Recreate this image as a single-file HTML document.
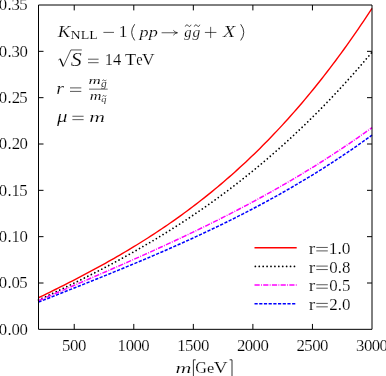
<!DOCTYPE html><html><head><meta charset="utf-8"><style>html,body{margin:0;padding:0;background:#fff}svg{display:block;will-change:transform}text{font-family:"Liberation Serif",serif;fill:#000;stroke:#fff;stroke-width:0.34px}</style></head><body>
<svg width="386" height="376" viewBox="0 0 386 376">
<rect width="386" height="376" fill="#fff"/>
<path d="M38.50,297.75 L41.30,296.39 L44.11,295.02 L46.91,293.65 L49.71,292.27 L52.51,290.89 L55.32,289.50 L58.12,288.10 L60.92,286.70 L63.72,285.29 L66.53,283.87 L69.33,282.44 L72.13,281.01 L74.93,279.57 L77.74,278.12 L80.54,276.66 L83.34,275.19 L86.14,273.71 L88.95,272.22 L91.75,270.72 L94.55,269.21 L97.35,267.68 L100.16,266.15 L102.96,264.60 L105.76,263.05 L108.56,261.48 L111.37,259.89 L114.17,258.30 L116.97,256.69 L119.77,255.06 L122.58,253.42 L125.38,251.77 L128.18,250.10 L130.98,248.42 L133.79,246.72 L136.59,245.00 L139.39,243.27 L142.19,241.52 L145.00,239.75 L147.80,237.97 L150.60,236.17 L153.40,234.35 L156.21,232.51 L159.01,230.66 L161.81,228.78 L164.61,226.89 L167.42,224.97 L170.22,223.03 L173.02,221.08 L175.82,219.10 L178.63,217.10 L181.43,215.09 L184.23,213.04 L187.03,210.98 L189.84,208.89 L192.64,206.78 L195.44,204.65 L198.24,202.50 L201.05,200.32 L203.85,198.11 L206.65,195.88 L209.45,193.63 L212.26,191.35 L215.06,189.04 L217.86,186.71 L220.66,184.35 L223.47,181.97 L226.27,179.56 L229.07,177.12 L231.87,174.65 L234.68,172.16 L237.48,169.64 L240.28,167.08 L243.08,164.50 L245.89,161.89 L248.69,159.25 L251.49,156.58 L254.29,153.88 L257.10,151.15 L259.90,148.38 L262.70,145.59 L265.50,142.76 L268.31,139.90 L271.11,137.01 L273.91,134.09 L276.71,131.13 L279.52,128.14 L282.32,125.11 L285.12,122.05 L287.92,118.96 L290.73,115.83 L293.53,112.66 L296.33,109.46 L299.13,106.23 L301.94,102.95 L304.74,99.64 L307.54,96.30 L310.34,92.91 L313.15,89.49 L315.95,86.03 L318.75,82.53 L321.55,78.99 L324.36,75.42 L327.16,71.80 L329.96,68.14 L332.76,64.45 L335.57,60.71 L338.37,56.93 L341.17,53.12 L343.97,49.26 L346.78,45.35 L349.58,41.41 L352.38,37.42 L355.18,33.39 L357.99,29.32 L360.79,25.20 L363.59,21.04 L366.39,16.84 L369.20,12.59 L372.00,8.29" fill="none" stroke="#ff0000" stroke-width="1.4" stroke-linecap="butt"/>
<path d="M38.50,299.96 L41.30,298.67 L44.11,297.37 L46.91,296.07 L49.71,294.76 L52.51,293.45 L55.32,292.13 L58.12,290.80 L60.92,289.47 L63.72,288.13 L66.53,286.78 L69.33,285.43 L72.13,284.07 L74.93,282.70 L77.74,281.32 L80.54,279.94 L83.34,278.54 L86.14,277.14 L88.95,275.73 L91.75,274.31 L94.55,272.88 L97.35,271.45 L100.16,270.00 L102.96,268.54 L105.76,267.07 L108.56,265.60 L111.37,264.11 L114.17,262.61 L116.97,261.10 L119.77,259.58 L122.58,258.05 L125.38,256.51 L128.18,254.95 L130.98,253.39 L133.79,251.81 L136.59,250.22 L139.39,248.62 L142.19,247.00 L145.00,245.37 L147.80,243.73 L150.60,242.08 L153.40,240.41 L156.21,238.73 L159.01,237.04 L161.81,235.33 L164.61,233.60 L167.42,231.87 L170.22,230.11 L173.02,228.35 L175.82,226.56 L178.63,224.77 L181.43,222.95 L184.23,221.12 L187.03,219.28 L189.84,217.42 L192.64,215.54 L195.44,213.65 L198.24,211.74 L201.05,209.81 L203.85,207.87 L206.65,205.91 L209.45,203.93 L212.26,201.93 L215.06,199.92 L217.86,197.88 L220.66,195.83 L223.47,193.76 L226.27,191.67 L229.07,189.57 L231.87,187.44 L234.68,185.30 L237.48,183.13 L240.28,180.94 L243.08,178.74 L245.89,176.51 L248.69,174.27 L251.49,172.00 L254.29,169.72 L257.10,167.41 L259.90,165.08 L262.70,162.73 L265.50,160.36 L268.31,157.96 L271.11,155.55 L273.91,153.11 L276.71,150.65 L279.52,148.16 L282.32,145.66 L285.12,143.13 L287.92,140.58 L290.73,138.00 L293.53,135.40 L296.33,132.78 L299.13,130.13 L301.94,127.46 L304.74,124.76 L307.54,122.04 L310.34,119.30 L313.15,116.53 L315.95,113.73 L318.75,110.91 L321.55,108.06 L324.36,105.19 L327.16,102.29 L329.96,99.36 L332.76,96.41 L335.57,93.43 L338.37,90.43 L341.17,87.40 L343.97,84.33 L346.78,81.25 L349.58,78.13 L352.38,74.99 L355.18,71.82 L357.99,68.62 L360.79,65.39 L363.59,62.13 L366.39,58.85 L369.20,55.53 L372.00,52.19" fill="none" stroke="#000000" stroke-width="1.75" stroke-linecap="round" stroke-dasharray="0.01 3.9"/>
<path d="M38.50,300.78 L41.30,299.56 L44.11,298.35 L46.91,297.13 L49.71,295.92 L52.51,294.71 L55.32,293.50 L58.12,292.28 L60.92,291.07 L63.72,289.87 L66.53,288.66 L69.33,287.45 L72.13,286.24 L74.93,285.03 L77.74,283.82 L80.54,282.61 L83.34,281.40 L86.14,280.19 L88.95,278.98 L91.75,277.77 L94.55,276.56 L97.35,275.34 L100.16,274.13 L102.96,272.91 L105.76,271.69 L108.56,270.47 L111.37,269.25 L114.17,268.03 L116.97,266.80 L119.77,265.57 L122.58,264.34 L125.38,263.11 L128.18,261.87 L130.98,260.63 L133.79,259.39 L136.59,258.14 L139.39,256.89 L142.19,255.64 L145.00,254.38 L147.80,253.12 L150.60,251.86 L153.40,250.59 L156.21,249.32 L159.01,248.05 L161.81,246.76 L164.61,245.48 L167.42,244.19 L170.22,242.89 L173.02,241.59 L175.82,240.29 L178.63,238.98 L181.43,237.66 L184.23,236.34 L187.03,235.01 L189.84,233.68 L192.64,232.34 L195.44,231.00 L198.24,229.65 L201.05,228.29 L203.85,226.92 L206.65,225.55 L209.45,224.17 L212.26,222.79 L215.06,221.40 L217.86,220.00 L220.66,218.59 L223.47,217.17 L226.27,215.75 L229.07,214.32 L231.87,212.88 L234.68,211.43 L237.48,209.98 L240.28,208.52 L243.08,207.04 L245.89,205.56 L248.69,204.07 L251.49,202.57 L254.29,201.07 L257.10,199.55 L259.90,198.02 L262.70,196.49 L265.50,194.94 L268.31,193.38 L271.11,191.82 L273.91,190.24 L276.71,188.65 L279.52,187.06 L282.32,185.45 L285.12,183.83 L287.92,182.20 L290.73,180.56 L293.53,178.91 L296.33,177.25 L299.13,175.57 L301.94,173.89 L304.74,172.19 L307.54,170.48 L310.34,168.76 L313.15,167.02 L315.95,165.28 L318.75,163.52 L321.55,161.75 L324.36,159.96 L327.16,158.17 L329.96,156.36 L332.76,154.54 L335.57,152.70 L338.37,150.85 L341.17,148.99 L343.97,147.11 L346.78,145.22 L349.58,143.31 L352.38,141.39 L355.18,139.46 L357.99,137.51 L360.79,135.55 L363.59,133.57 L366.39,131.58 L369.20,129.57 L372.00,127.55" fill="none" stroke="#ff00ff" stroke-width="1.5" stroke-linecap="butt" stroke-dasharray="5.2 1.3 0.9 1.3"/>
<path d="M38.50,302.15 L41.30,301.04 L44.11,299.92 L46.91,298.81 L49.71,297.70 L52.51,296.59 L55.32,295.48 L58.12,294.36 L60.92,293.25 L63.72,292.14 L66.53,291.03 L69.33,289.92 L72.13,288.80 L74.93,287.69 L77.74,286.58 L80.54,285.46 L83.34,284.34 L86.14,283.22 L88.95,282.10 L91.75,280.98 L94.55,279.86 L97.35,278.73 L100.16,277.60 L102.96,276.47 L105.76,275.34 L108.56,274.20 L111.37,273.06 L114.17,271.92 L116.97,270.78 L119.77,269.63 L122.58,268.48 L125.38,267.33 L128.18,266.17 L130.98,265.01 L133.79,263.84 L136.59,262.67 L139.39,261.50 L142.19,260.32 L145.00,259.14 L147.80,257.95 L150.60,256.76 L153.40,255.57 L156.21,254.36 L159.01,253.16 L161.81,251.95 L164.61,250.73 L167.42,249.50 L170.22,248.28 L173.02,247.04 L175.82,245.80 L178.63,244.55 L181.43,243.30 L184.23,242.04 L187.03,240.77 L189.84,239.50 L192.64,238.22 L195.44,236.93 L198.24,235.63 L201.05,234.33 L203.85,233.02 L206.65,231.71 L209.45,230.38 L212.26,229.05 L215.06,227.71 L217.86,226.36 L220.66,225.00 L223.47,223.63 L226.27,222.26 L229.07,220.87 L231.87,219.48 L234.68,218.08 L237.48,216.66 L240.28,215.24 L243.08,213.81 L245.89,212.37 L248.69,210.92 L251.49,209.46 L254.29,207.99 L257.10,206.51 L259.90,205.02 L262.70,203.52 L265.50,202.01 L268.31,200.48 L271.11,198.95 L273.91,197.41 L276.71,195.85 L279.52,194.28 L282.32,192.70 L285.12,191.11 L287.92,189.51 L290.73,187.89 L293.53,186.26 L296.33,184.62 L299.13,182.97 L301.94,181.31 L304.74,179.63 L307.54,177.94 L310.34,176.23 L313.15,174.52 L315.95,172.79 L318.75,171.04 L321.55,169.29 L324.36,167.51 L327.16,165.73 L329.96,163.93 L332.76,162.12 L335.57,160.29 L338.37,158.45 L341.17,156.59 L343.97,154.72 L346.78,152.83 L349.58,150.93 L352.38,149.01 L355.18,147.08 L357.99,145.13 L360.79,143.17 L363.59,141.19 L366.39,139.19 L369.20,137.18 L372.00,135.15" fill="none" stroke="#0000ff" stroke-width="1.5" stroke-linecap="butt" stroke-dasharray="3.2 1.5"/>
<g stroke="#000" stroke-width="1" fill="none">
<path d="M38.5,5.0 H372.0 V329.33 H38.5 Z"/>
<path d="M38.5,283.00 h5.0 M372.0,283.00 h-5.0"/>
<path d="M38.5,236.66 h5.0 M372.0,236.66 h-5.0"/>
<path d="M38.5,190.33 h5.0 M372.0,190.33 h-5.0"/>
<path d="M38.5,144.00 h5.0 M372.0,144.00 h-5.0"/>
<path d="M38.5,97.67 h5.0 M372.0,97.67 h-5.0"/>
<path d="M38.5,51.33 h5.0 M372.0,51.33 h-5.0"/>
<path d="M74.23,329.33 v-5.4 M74.23,5.0 v5.4"/>
<path d="M133.79,329.33 v-5.4 M133.79,5.0 v5.4"/>
<path d="M193.34,329.33 v-5.4 M193.34,5.0 v5.4"/>
<path d="M252.89,329.33 v-5.4 M252.89,5.0 v5.4"/>
<path d="M312.45,329.33 v-5.4 M312.45,5.0 v5.4"/>
</g>
<path d="M254.5,247.70 H296.7" stroke="#ff0000" stroke-width="1.4" stroke-linecap="butt"/>
<path d="M255.35,266.40 H296.7" stroke="#000000" stroke-width="1.75" stroke-linecap="round" stroke-dasharray="0.01 3.9"/>
<path d="M254.5,285.00 H296.7" stroke="#ff00ff" stroke-width="1.5" stroke-linecap="butt" stroke-dasharray="5.2 1.3 0.9 1.3"/>
<path d="M254.5,303.80 H296.7" stroke="#0000ff" stroke-width="1.5" stroke-linecap="butt" stroke-dasharray="3.2 1.5"/>
<text transform="translate(57.65,37.25) scale(1.174,1.105)" font-size="16" font-style="italic" style="stroke-width:0.18px">K</text>
<text transform="translate(70.57,39.35) scale(1.328,1.236)" font-size="10.5" style="stroke-width:0.1px">NLL</text>
<text transform="translate(118.81,37.15) scale(1.084,1.076)" font-size="16" style="stroke-width:0.16px">1</text>
<text transform="translate(139.59,36.90) scale(1.136,0.874)" font-size="16" font-style="italic" style="stroke-width:0.18px">pp</text>
<text transform="translate(184.30,36.74) scale(0.920,0.846)" font-size="16" font-style="italic" style="stroke-width:0.18px">g</text>
<text transform="translate(192.60,36.74) scale(0.973,0.846)" font-size="16" font-style="italic" style="stroke-width:0.18px">g</text>
<text transform="translate(222.92,36.65) scale(1.247,1.000)" font-size="16" font-style="italic" style="stroke-width:0.18px">X</text>
<text transform="translate(70.86,65.61) scale(1.373,1.153)" font-size="16" font-style="italic" style="stroke-width:0.18px">S</text>
<text transform="translate(104.78,65.45) scale(1.030,1.029)" font-size="16" style="stroke-width:0.16px">14</text>
<text transform="translate(125.01,65.35) scale(1.146,1.048)" font-size="16" style="stroke-width:0.16px">T</text>
<text transform="translate(136.14,65.42) scale(0.902,1.023)" font-size="16" style="stroke-width:0.16px">e</text>
<text transform="translate(142.06,65.29) scale(1.084,1.042)" font-size="16" style="stroke-width:0.16px">V</text>
<text transform="translate(56.32,93.85) scale(1.244,1.000)" font-size="16" font-style="italic" style="stroke-width:0.18px">r</text>
<text transform="translate(88.59,84.15) scale(1.416,0.924)" font-size="12" font-style="italic" style="stroke-width:0.1px">m</text>
<text transform="translate(100.90,86.73) scale(1.350,1.096)" font-size="8.5" font-style="italic" style="stroke-width:0.1px">g</text>
<text transform="translate(89.82,99.95) scale(1.351,0.978)" font-size="12" font-style="italic" style="stroke-width:0.1px">m</text>
<text transform="translate(101.29,101.95) scale(1.227,1.026)" font-size="8.5" font-style="italic" style="stroke-width:0.1px">q</text>
<text transform="translate(56.90,122.17) scale(1.307,1.033)" font-size="16" font-style="italic" style="stroke-width:0.18px">μ</text>
<text transform="translate(89.25,121.75) scale(1.366,0.960)" font-size="16" font-style="italic" style="stroke-width:0.18px">m</text>
<text transform="translate(175.54,372.90) scale(1.376,0.947)" font-size="16" font-style="italic" style="stroke-width:0.18px">m</text>
<text transform="translate(195.27,372.87) scale(1.012,1.023)" font-size="16" style="stroke-width:0.16px">G</text>
<text transform="translate(207.06,372.88) scale(1.021,0.957)" font-size="16" style="stroke-width:0.16px">e</text>
<text transform="translate(213.85,372.75) scale(1.191,1.005)" font-size="16" style="stroke-width:0.16px">V</text>
<text transform="translate(308.64,254.00) scale(1.221,1.093)" font-size="16" style="stroke-width:0.16px">r</text>
<text transform="translate(328.81,253.93) scale(1.083,1.080)" font-size="16" style="stroke-width:0.16px">1.0</text>
<text transform="translate(308.64,272.65) scale(1.221,1.093)" font-size="16" style="stroke-width:0.16px">r</text>
<text transform="translate(329.34,272.58) scale(1.056,1.080)" font-size="16" style="stroke-width:0.16px">0.8</text>
<text transform="translate(308.64,291.30) scale(1.221,1.093)" font-size="16" style="stroke-width:0.16px">r</text>
<text transform="translate(329.34,291.23) scale(1.056,1.080)" font-size="16" style="stroke-width:0.16px">0.5</text>
<text transform="translate(308.64,309.95) scale(1.221,1.093)" font-size="16" style="stroke-width:0.16px">r</text>
<text transform="translate(329.20,309.88) scale(1.063,1.080)" font-size="16" style="stroke-width:0.16px">2.0</text>
<text transform="translate(-1.30,334.80) scale(1.050,1.042)" font-size="16" style="stroke-width:0.16px">0</text>
<text transform="translate(7.60,334.80) scale(1.050,1.042)" font-size="16" style="stroke-width:0.16px">.</text>
<text transform="translate(11.60,334.80) scale(1.050,1.042)" font-size="16" style="stroke-width:0.16px">0</text>
<text transform="translate(19.50,334.80) scale(1.050,1.042)" font-size="16" style="stroke-width:0.16px">0</text>
<text transform="translate(-1.30,288.47) scale(1.050,1.042)" font-size="16" style="stroke-width:0.16px">0</text>
<text transform="translate(7.60,288.47) scale(1.050,1.042)" font-size="16" style="stroke-width:0.16px">.</text>
<text transform="translate(11.60,288.47) scale(1.050,1.042)" font-size="16" style="stroke-width:0.16px">0</text>
<text transform="translate(19.37,288.47) scale(1.050,1.042)" font-size="16" style="stroke-width:0.16px">5</text>
<text transform="translate(-1.30,242.13) scale(1.050,1.042)" font-size="16" style="stroke-width:0.16px">0</text>
<text transform="translate(7.60,242.13) scale(1.050,1.042)" font-size="16" style="stroke-width:0.16px">.</text>
<text transform="translate(11.40,242.13) scale(1.050,1.042)" font-size="16" style="stroke-width:0.16px">1</text>
<text transform="translate(19.50,242.13) scale(1.050,1.042)" font-size="16" style="stroke-width:0.16px">0</text>
<text transform="translate(-1.30,195.80) scale(1.050,1.042)" font-size="16" style="stroke-width:0.16px">0</text>
<text transform="translate(7.60,195.80) scale(1.050,1.042)" font-size="16" style="stroke-width:0.16px">.</text>
<text transform="translate(11.40,195.80) scale(1.050,1.042)" font-size="16" style="stroke-width:0.16px">1</text>
<text transform="translate(19.37,195.80) scale(1.050,1.042)" font-size="16" style="stroke-width:0.16px">5</text>
<text transform="translate(-1.30,149.46) scale(1.050,1.070)" font-size="16" style="stroke-width:0.16px">0</text>
<text transform="translate(7.60,149.46) scale(1.050,1.070)" font-size="16" style="stroke-width:0.16px">.</text>
<text transform="translate(11.67,149.46) scale(1.050,1.070)" font-size="16" style="stroke-width:0.16px">2</text>
<text transform="translate(19.50,149.46) scale(1.050,1.070)" font-size="16" style="stroke-width:0.16px">0</text>
<text transform="translate(-1.30,103.14) scale(1.050,1.042)" font-size="16" style="stroke-width:0.16px">0</text>
<text transform="translate(7.60,103.14) scale(1.050,1.042)" font-size="16" style="stroke-width:0.16px">.</text>
<text transform="translate(11.67,103.14) scale(1.050,1.042)" font-size="16" style="stroke-width:0.16px">2</text>
<text transform="translate(19.37,103.14) scale(1.050,1.042)" font-size="16" style="stroke-width:0.16px">5</text>
<text transform="translate(-1.30,56.80) scale(1.050,1.042)" font-size="16" style="stroke-width:0.16px">0</text>
<text transform="translate(7.60,56.80) scale(1.050,1.042)" font-size="16" style="stroke-width:0.16px">.</text>
<text transform="translate(11.53,56.80) scale(1.050,1.042)" font-size="16" style="stroke-width:0.16px">3</text>
<text transform="translate(19.50,56.80) scale(1.050,1.042)" font-size="16" style="stroke-width:0.16px">0</text>
<text transform="translate(-1.30,10.47) scale(1.050,1.042)" font-size="16" style="stroke-width:0.16px">0</text>
<text transform="translate(7.60,10.47) scale(1.050,1.042)" font-size="16" style="stroke-width:0.16px">.</text>
<text transform="translate(11.53,10.47) scale(1.050,1.042)" font-size="16" style="stroke-width:0.16px">3</text>
<text transform="translate(19.37,10.47) scale(1.050,1.042)" font-size="16" style="stroke-width:0.16px">5</text>
<text transform="translate(62.05,351.16) scale(1.050,1.102)" font-size="16" style="stroke-width:0.16px">5</text>
<text transform="translate(70.03,351.16) scale(1.050,1.102)" font-size="16" style="stroke-width:0.16px">0</text>
<text transform="translate(77.88,351.16) scale(1.050,1.102)" font-size="16" style="stroke-width:0.16px">0</text>
<text transform="translate(117.61,351.16) scale(1.050,1.102)" font-size="16" style="stroke-width:0.16px">1</text>
<text transform="translate(125.66,351.16) scale(1.050,1.102)" font-size="16" style="stroke-width:0.16px">0</text>
<text transform="translate(133.51,351.16) scale(1.050,1.102)" font-size="16" style="stroke-width:0.16px">0</text>
<text transform="translate(141.36,351.16) scale(1.050,1.102)" font-size="16" style="stroke-width:0.16px">0</text>
<text transform="translate(177.17,351.16) scale(1.050,1.102)" font-size="16" style="stroke-width:0.16px">1</text>
<text transform="translate(185.08,351.16) scale(1.050,1.102)" font-size="16" style="stroke-width:0.16px">5</text>
<text transform="translate(193.06,351.16) scale(1.050,1.102)" font-size="16" style="stroke-width:0.16px">0</text>
<text transform="translate(200.91,351.16) scale(1.050,1.102)" font-size="16" style="stroke-width:0.16px">0</text>
<text transform="translate(236.98,351.16) scale(1.050,1.102)" font-size="16" style="stroke-width:0.16px">2</text>
<text transform="translate(244.77,351.16) scale(1.050,1.102)" font-size="16" style="stroke-width:0.16px">0</text>
<text transform="translate(252.62,351.16) scale(1.050,1.102)" font-size="16" style="stroke-width:0.16px">0</text>
<text transform="translate(260.47,351.16) scale(1.050,1.102)" font-size="16" style="stroke-width:0.16px">0</text>
<text transform="translate(296.54,351.16) scale(1.050,1.102)" font-size="16" style="stroke-width:0.16px">2</text>
<text transform="translate(304.19,351.16) scale(1.050,1.102)" font-size="16" style="stroke-width:0.16px">5</text>
<text transform="translate(312.17,351.16) scale(1.050,1.102)" font-size="16" style="stroke-width:0.16px">0</text>
<text transform="translate(320.02,351.16) scale(1.050,1.102)" font-size="16" style="stroke-width:0.16px">0</text>
<text transform="translate(355.96,351.16) scale(1.050,1.102)" font-size="16" style="stroke-width:0.16px">3</text>
<text transform="translate(363.88,351.16) scale(1.050,1.102)" font-size="16" style="stroke-width:0.16px">0</text>
<text transform="translate(371.73,351.16) scale(1.050,1.102)" font-size="16" style="stroke-width:0.16px">0</text>
<text transform="translate(379.57,351.16) scale(1.050,1.102)" font-size="16" style="stroke-width:0.16px">0</text>
<g stroke="#000" stroke-width="0.65" fill="none" transform="translate(0,0.65)">
<path d="M103.4,31.75 H114.0"/>
<path d="M161.6,32.1 H177.2"/>
<path d="M173.3,29.6 Q174.8,31.6 177.5,32.1 Q174.8,32.6 173.3,34.6"/>
<path d="M134.7,23.6 Q128.6,31.7 134.7,39.8" stroke-width="0.8"/>
<path d="M240.7,23.6 Q246.8,31.7 240.7,39.8" stroke-width="0.8"/>
<path d="M204.9,31.8 H216.4 M210.65,26.2 V37.4"/>
<path d="M88,58.55 H98.6 M88,62.05 H98.6"/>
<path d="M70.0,87.25 H81.3 M70.0,90.75 H81.3"/>
<path d="M72.4,115.60 H83.6 M72.4,119.00 H83.6"/>
<path d="M316.3,246.80 H327.8 M316.3,250.25 H327.8"/>
<path d="M316.3,265.45 H327.8 M316.3,268.90 H327.8"/>
<path d="M316.3,284.10 H327.8 M316.3,287.55 H327.8"/>
<path d="M316.3,302.75 H327.8 M316.3,306.20 H327.8"/>
<path d="M89,88.5 H107.7" stroke-width="0.6"/>
<path d="M58.3,59.4 L60.1,58.1" stroke-width="0.6"/>
<path d="M60.1,58.1 L63.2,65.6" stroke-width="1.3"/>
<path d="M63.2,66.0 L70.9,49.3 H81.8" stroke-width="0.65"/>
<path d="M185.3,25.90 C186.44,23.02 187.87,24.46 188.15,25.00 S189.86,26.98 191.0,24.10" stroke-width="0.75"/>
<path d="M194.3,25.90 C195.40,23.02 196.78,24.46 197.05,25.00 S198.70,26.98 199.8,24.10" stroke-width="0.75"/>
<path d="M102.4,80.25 C103.18,78.49 104.16,79.37 104.35,79.70 S105.52,80.91 106.3,79.15" stroke-width="0.6"/>
<path d="M102.6,95.85 C103.32,94.09 104.22,94.97 104.40,95.30 S105.48,96.51 106.2,94.75" stroke-width="0.6"/>
</g>
<path d="M195.7,359.8 H193.4 V378 M229.6,359.8 H232.0 V378" stroke="#000" fill="none" stroke-width="0.8"/>
</svg></body></html>
